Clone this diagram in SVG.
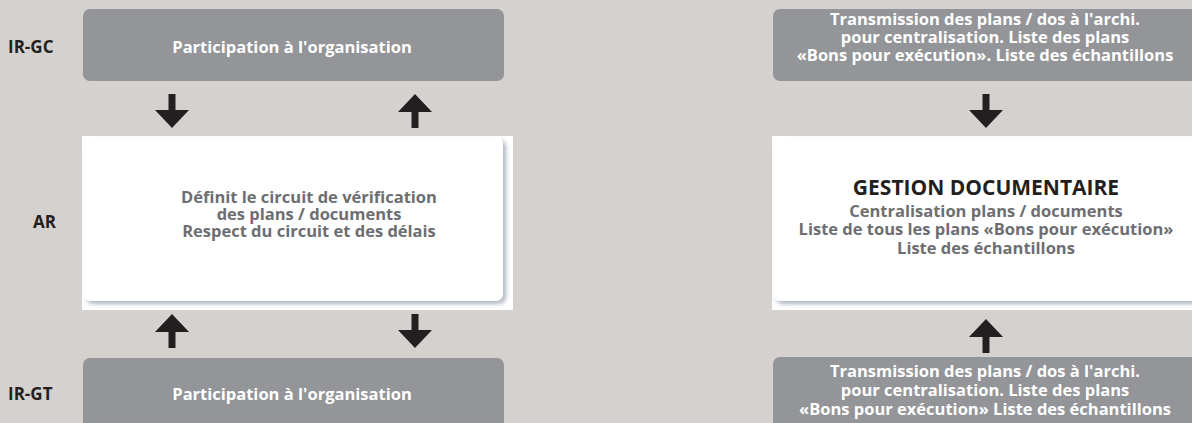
<svg xmlns="http://www.w3.org/2000/svg" width="1192" height="423" viewBox="0 0 1192 423">
<defs>
<style>
text{font-family:"Open Sans","Liberation Sans",sans-serif;font-weight:bold;text-anchor:middle}
.lbl{font-size:17px;fill:#231f20;text-anchor:start}
.gt{font-size:16.5px;fill:#ffffff}
.wt{font-size:16.5px;fill:#6d6e71}
.title{font-size:21px;fill:#231f20}
.grey{fill:#939598}
.white{fill:#ffffff}
.arrow{fill:#231f20}
</style>
<filter id="sh" x="-5%" y="-5%" width="115%" height="120%">
<feDropShadow dx="3" dy="3" stdDeviation="2" flood-color="#a9b0bc" flood-opacity="0.9"/>
</filter>
<path id="down" d="M-3.5,0 H3.5 V16 H17 L0,34 L-17,16 H-3.5 Z"/>
<path id="up" d="M-3.5,0 H3.5 V-16 H17 L0,-34 L-17,-16 H-3.5 Z"/>
</defs>
<rect width="1192" height="423" fill="#d5d1ce"/>

<g id="label-irgc"><text class="lbl" x="8" y="53">IR-GC</text></g>
<g id="label-ar"><text class="lbl" x="33" y="228">AR</text></g>
<g id="label-irgt"><text class="lbl" x="8" y="400">IR-GT</text></g>

<g id="node-irgc">
<rect class="grey" x="83" y="9" width="421" height="72" rx="7"/>
<text class="gt" x="292" y="53">Participation à l'organisation</text>
</g>

<g id="node-ar">
<rect class="white" x="82" y="136" width="431" height="174"/>
<rect class="white" x="83" y="137" width="420" height="164" rx="7" filter="url(#sh)"/>
<text class="wt" x="309" y="203">Définit le circuit de vérification</text>
<text class="wt" x="309" y="220">des plans / documents</text>
<text class="wt" x="309" y="237">Respect du circuit et des délais</text>
</g>

<g id="node-irgt">
<rect class="grey" x="83" y="358" width="421" height="80" rx="7"/>
<text class="gt" x="292" y="400">Participation à l'organisation</text>
</g>

<g id="node-trans-top">
<rect class="grey" x="773" y="9" width="440" height="72" rx="7"/>
<text class="gt" x="985" y="25">Transmission des plans / dos à l'archi.</text>
<text class="gt" x="985" y="43">pour centralisation. Liste des plans</text>
<text class="gt" x="985" y="61">«Bons pour exécution». Liste des échantillons</text>
</g>

<g id="node-gestion">
<rect class="white" x="772" y="136" width="430" height="174"/>
<rect class="white" x="773" y="137" width="440" height="164" rx="7" filter="url(#sh)"/>
<text class="title" x="986" y="195">GESTION DOCUMENTAIRE</text>
<text class="wt" x="986" y="217">Centralisation plans / documents</text>
<text class="wt" x="986" y="235">Liste de tous les plans «Bons pour exécution»</text>
<text class="wt" x="986" y="254">Liste des échantillons</text>
</g>

<g id="node-trans-bottom">
<rect class="grey" x="773" y="357" width="440" height="80" rx="7"/>
<text class="gt" x="985" y="377">Transmission des plans / dos à l'archi.</text>
<text class="gt" x="985" y="396">pour centralisation. Liste des plans</text>
<text class="gt" x="985" y="415">«Bons pour exécution» Liste des échantillons</text>
</g>

<g id="connectors">
<use href="#down" class="arrow" x="172" y="94"/>
<use href="#up" class="arrow" x="415" y="128"/>
<use href="#up" class="arrow" x="172" y="348"/>
<use href="#down" class="arrow" x="415" y="314"/>
<use href="#down" class="arrow" x="986" y="94"/>
<use href="#up" class="arrow" x="986" y="353"/>
</g>
</svg>
